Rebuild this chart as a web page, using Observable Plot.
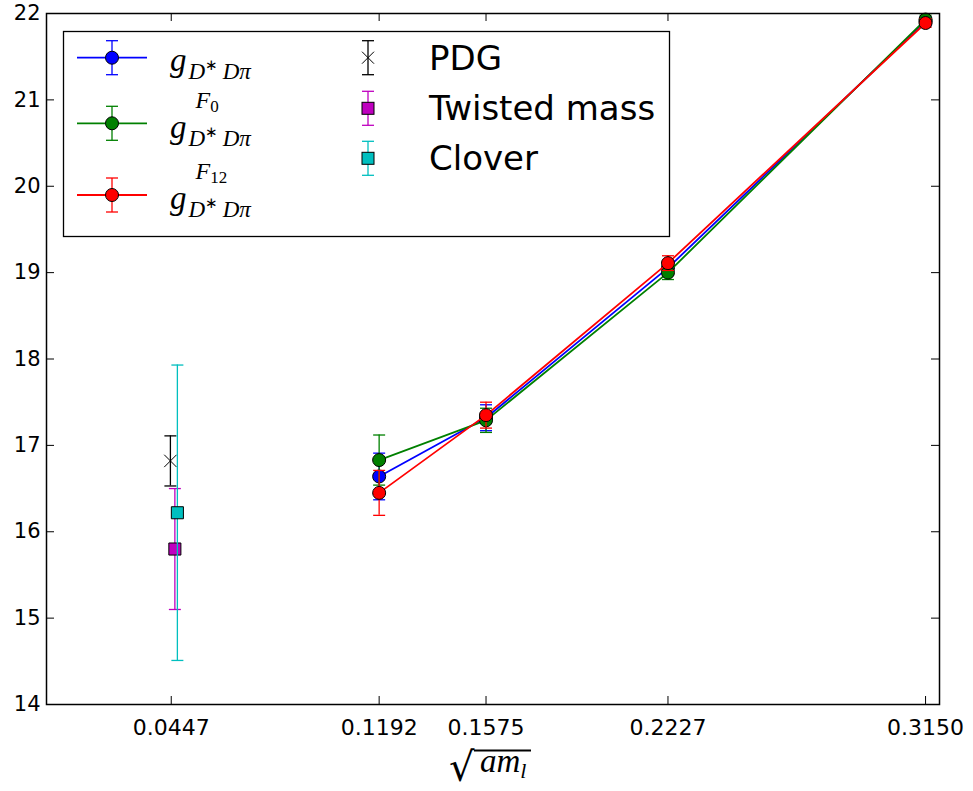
<!DOCTYPE html>
<html><head><meta charset="utf-8">
<script src="https://cdn.jsdelivr.net/npm/d3@7"></script>
<script src="https://cdn.jsdelivr.net/npm/@observablehq/plot@0.6"></script>
<style>body{margin:0;background:#fff}</style>
</head><body><div id="chart"></div>
<script>
// ---- data ----
const xValues = [0.1192, 0.1575, 0.2227, 0.3150];
const gMain = [16.64, 17.32, 19.055, 21.91];
const gMainErr = [0.27, 0.15, 0.085, 0.05];
const gF0 = [16.83, 17.29, 19.00, 21.93];
const gF0Err = [0.29, 0.14, 0.08, 0.05];
const gF12 = [16.45, 17.35, 19.11, 21.89];
const gF12Err = [0.26, 0.15, 0.085, 0.05];

const refNames = ["PDG", "Twisted mass", "Clover"];
const refX = [0.0444, 0.0460, 0.0469];
const refY = [16.82, 15.80, 16.22];
const refErr = [0.29, 0.70, 1.71];

const xTicks = [0.0447, 0.1192, 0.1575, 0.2227, 0.3150];
const yTicks = [14, 15, 16, 17, 18, 19, 20, 21, 22];

const seriesColors = ["#0000ff", "#008000", "#ff0000"];
const seriesSup = [null, "0", "12"];
const refColors = ["#000000", "#bf00bf", "#00bfbf"];
const refSymbols = ["times", "square", "square"];

// ---- layout ----
const W = 973, H = 791, mL = 46, mR = 34, mT = 13, mB = 87;
const innerW = W - mL - mR, innerH = H - mT - mB;
const TICK = 8;

const capSymbol = {draw(ctx, size) { const r = Math.sqrt(size / Math.PI); ctx.moveTo(-r, 0); ctx.lineTo(r, 0); }};

const series = [
  {vals: gMain, err: gMainErr},
  {vals: gF0, err: gF0Err},
  {vals: gF12, err: gF12Err}
].map((s, k) => ({...s, color: seriesColors[k],
  data: xValues.map((x, i) => ({x, y: s.vals[i], e: s.err[i]}))}));

const refs = refNames.map((n, i) => ({name: n, x: refX[i], y: refY[i], e: refErr[i], color: refColors[i], symbol: refSymbols[i]}));

const marks = [];
// inward ticks on all four sides
marks.push(Plot.tickX(xTicks, {x: d => d, insetTop: innerH - TICK, stroke: "black", strokeWidth: 1}));
marks.push(Plot.tickX(xTicks, {x: d => d, insetBottom: innerH - TICK, stroke: "black", strokeWidth: 1}));
marks.push(Plot.tickY(yTicks, {y: d => d, insetRight: innerW - TICK, stroke: "black", strokeWidth: 1}));
marks.push(Plot.tickY(yTicks, {y: d => d, insetLeft: innerW - TICK, stroke: "black", strokeWidth: 1}));

for (const s of series) {
  marks.push(Plot.line(s.data, {x: "x", y: "y", stroke: s.color, strokeWidth: 1.8}));
  marks.push(Plot.ruleX(s.data, {x: "x", y1: d => d.y - d.e, y2: d => d.y + d.e, stroke: s.color, strokeWidth: 1.3}));
  marks.push(Plot.dot(s.data, {x: "x", y: d => d.y - d.e, symbol: capSymbol, r: 6, fill: "none", stroke: s.color, strokeWidth: 1.3}));
  marks.push(Plot.dot(s.data, {x: "x", y: d => d.y + d.e, symbol: capSymbol, r: 6, fill: "none", stroke: s.color, strokeWidth: 1.3}));
  marks.push(Plot.dot(s.data, {x: "x", y: "y", r: 6.5, fill: s.color, stroke: "black", strokeWidth: 1}));
}
for (const r of refs) {
  const d = [r];
  marks.push(Plot.ruleX(d, {x: "x", y1: v => v.y - v.e, y2: v => v.y + v.e, stroke: r.color, strokeWidth: 1.3}));
  marks.push(Plot.dot(d, {x: "x", y: v => v.y - v.e, symbol: capSymbol, r: 6, fill: "none", stroke: r.color, strokeWidth: 1.3}));
  marks.push(Plot.dot(d, {x: "x", y: v => v.y + v.e, symbol: capSymbol, r: 6, fill: "none", stroke: r.color, strokeWidth: 1.3}));
  if (r.symbol === "times") {
    marks.push(Plot.dot(d, {x: "x", y: "y", symbol: "times", r: 5.7, stroke: r.color, strokeWidth: 1}));
  } else {
    marks.push(Plot.dot(d, {x: "x", y: "y", symbol: "square", r: 6.8, fill: r.color, stroke: "black", strokeWidth: 1}));
  }
}
marks.push(Plot.frame({stroke: "black", strokeWidth: 1.5}));

const chart = Plot.plot({
  width: W, height: H,
  marginLeft: mL, marginRight: mR, marginTop: mT, marginBottom: mB,
  style: {fontFamily: "DejaVu Sans", fontSize: "21px", background: "white", color: "black"},
  x: {domain: [0, 0.32], ticks: xTicks, tickFormat: d3.format(".4f"), tickSize: 0, tickPadding: 15, label: null},
  y: {domain: [14, 22], ticks: yTicks, tickSize: 0, tickPadding: 6, label: null},
  marks
});
document.getElementById("chart").appendChild(chart);
d3.select(chart).selectAll("g[aria-label='x-axis tick label'] text, g[aria-label='x-axis tick label']").attr("font-size", 22);

// ---- legend ----
const svg = d3.select(chart);
const lg = svg.append("g").attr("text-anchor", "start");
lg.append("rect").attr("x", 63.5).attr("y", 31.5).attr("width", 606).attr("height", 205)
  .attr("fill", "white").attr("stroke", "black").attr("stroke-width", 1.3);

function swatch(cx, cy, color, kind, line) {
  if (line) lg.append("line").attr("x1", cx - 35).attr("x2", cx + 35).attr("y1", cy).attr("y2", cy).attr("stroke", color).attr("stroke-width", 1.8);
  lg.append("line").attr("x1", cx).attr("x2", cx).attr("y1", cy - 17).attr("y2", cy + 17).attr("stroke", color).attr("stroke-width", 1.3);
  for (const dy of [-17, 17]) lg.append("line").attr("x1", cx - 6).attr("x2", cx + 6).attr("y1", cy + dy).attr("y2", cy + dy).attr("stroke", color).attr("stroke-width", 1.3);
  if (kind === "circle") lg.append("circle").attr("cx", cx).attr("cy", cy).attr("r", 6.5).attr("fill", color).attr("stroke", "black");
  else if (kind === "square") lg.append("rect").attr("x", cx - 6).attr("y", cy - 6).attr("width", 12).attr("height", 12).attr("fill", color).attr("stroke", "black");
  else lg.append("path").attr("d", `M${cx-6},${cy-6}L${cx+6},${cy+6}M${cx-6},${cy+6}L${cx+6},${cy-6}`).attr("stroke", color).attr("stroke-width", 1);
}

const leftRows = [57.7, 123.3, 195];
const gBase = [71, 138, 209];
series.forEach((s, k) => {
  swatch(112, leftRows[k], s.color, "circle", true);
  const tx = 170;
  const g = lg.append("text").attr("x", tx).attr("y", gBase[k]).attr("font-family", "Liberation Serif")
    .attr("font-style", "italic").attr("font-size", 33).text("g");
  const gw = g.node().getComputedTextLength();
  const sub = lg.append("text").attr("x", tx + gw + 2).attr("y", gBase[k] + 8).attr("font-family", "Liberation Serif")
    .attr("font-style", "italic").attr("font-size", 23);
  sub.append("tspan").text("D");
  sub.append("tspan").attr("font-style", "normal").attr("font-size", 15).attr("dy", -9).text("\u2217");
  sub.append("tspan").attr("dy", 9).text("\u2009D\u03c0");
  if (seriesSup[k]) {
    const sup = lg.append("text").attr("x", tx + gw + 9).attr("y", gBase[k] - 30).attr("font-family", "Liberation Serif")
      .attr("font-style", "italic").attr("font-size", 24);
    sup.append("tspan").text("F");
    sup.append("tspan").attr("font-style", "normal").attr("font-size", 17).attr("dy", 4).text(seriesSup[k]);
  }
});

const rightRows = [57.7, 108.3, 158.3];
refs.forEach((r, k) => {
  swatch(368, rightRows[k], r.color, r.symbol === "times" ? "times" : "square", false);
  lg.append("text").attr("x", 429).attr("y", rightRows[k] + 12).attr("font-family", "DejaVu Sans")
    .attr("font-size", 34).attr("fill", "black").text(r.name);
});

// ---- x-axis label: sqrt(a m_l) ----
const xl = svg.append("g").attr("text-anchor", "start");
xl.append("text").attr("x", 449).attr("y", 781).attr("font-family", "DejaVu Sans").attr("font-size", 40).text("\u221a");
xl.append("line").attr("x1", 474).attr("x2", 531).attr("y1", 750.5).attr("y2", 750.5).attr("stroke", "black").attr("stroke-width", 2);
const am = xl.append("text").attr("x", 480).attr("y", 772).attr("font-family", "Liberation Serif").attr("font-style", "italic").attr("font-size", 33);
am.append("tspan").text("am");
am.append("tspan").attr("font-size", 22).attr("dy", 6).text("l");
</script>
</body></html>
